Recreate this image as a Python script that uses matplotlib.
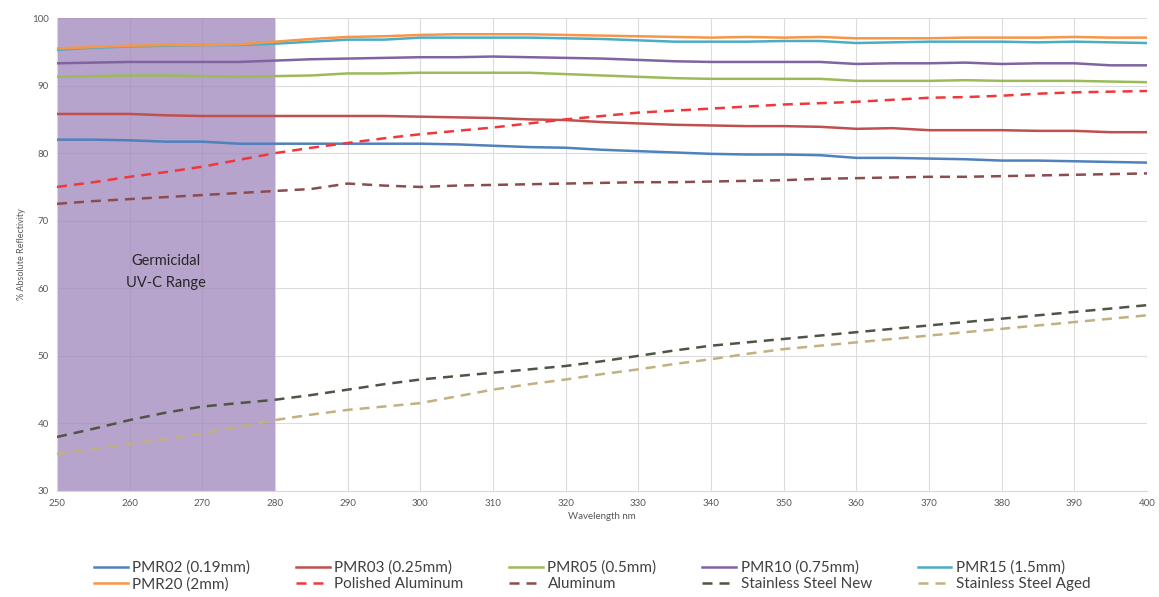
import numpy as np
import matplotlib.pyplot as plt

wavelength = list(range(250, 401, 5))

pmr02 = [82.0, 82.0, 81.9, 81.7, 81.7, 81.4, 81.4, 81.4, 81.4, 81.4, 81.4, 81.3, 81.1, 80.9, 80.8, 80.5,
         80.3, 80.1, 79.9, 79.8, 79.8, 79.7, 79.3, 79.3, 79.2, 79.1, 78.9, 78.9, 78.8, 78.7, 78.6]
pmr03 = [85.8, 85.8, 85.8, 85.6, 85.5, 85.5, 85.5, 85.5, 85.5, 85.5, 85.4, 85.3, 85.2, 85.0, 84.9, 84.6,
         84.4, 84.2, 84.1, 84.0, 84.0, 83.9, 83.6, 83.7, 83.4, 83.4, 83.4, 83.3, 83.3, 83.1, 83.1]
pmr05 = [91.3, 91.4, 91.5, 91.5, 91.4, 91.3, 91.4, 91.5, 91.8, 91.8, 91.9, 91.9, 91.9, 91.9, 91.7, 91.5,
         91.3, 91.1, 91.0, 91.0, 91.0, 91.0, 90.7, 90.7, 90.7, 90.8, 90.7, 90.7, 90.7, 90.6, 90.5]
pmr10 = [93.3, 93.4, 93.5, 93.5, 93.5, 93.5, 93.7, 93.9, 94.0, 94.1, 94.2, 94.2, 94.3, 94.2, 94.1, 94.0,
         93.8, 93.6, 93.5, 93.5, 93.5, 93.5, 93.2, 93.3, 93.3, 93.4, 93.2, 93.3, 93.3, 93.0, 93.0]
pmr15 = [95.3, 95.6, 95.8, 95.9, 96.0, 96.0, 96.2, 96.5, 96.8, 96.8, 97.1, 97.1, 97.1, 97.1, 97.0, 96.9,
         96.7, 96.5, 96.5, 96.5, 96.6, 96.6, 96.3, 96.4, 96.5, 96.5, 96.5, 96.4, 96.5, 96.4, 96.3]
pmr20 = [95.5, 95.7, 95.9, 96.0, 96.0, 96.1, 96.5, 96.9, 97.2, 97.3, 97.5, 97.6, 97.6, 97.6, 97.5, 97.4,
         97.3, 97.2, 97.1, 97.2, 97.1, 97.2, 97.0, 97.0, 97.0, 97.1, 97.1, 97.1, 97.2, 97.1, 97.1]
polished_al = [75.0, 75.7, 76.5, 77.2, 78.0, 79.0, 80.0, 80.8, 81.5, 82.2, 82.8, 83.3, 83.8, 84.4, 85.0, 85.5,
               86.0, 86.3, 86.6, 86.9, 87.2, 87.4, 87.6, 87.9, 88.2, 88.3, 88.5, 88.8, 89.0, 89.1, 89.2]
aluminum = [72.5, 72.9, 73.2, 73.5, 73.8, 74.1, 74.4, 74.7, 75.5, 75.2, 75.0, 75.2, 75.3, 75.4, 75.5, 75.6,
            75.7, 75.7, 75.8, 75.9, 76.0, 76.2, 76.3, 76.4, 76.5, 76.5, 76.6, 76.7, 76.8, 76.9, 77.0]
ss_new = [38.0, 39.2, 40.5, 41.6, 42.5, 43.0, 43.5, 44.2, 45.0, 45.8, 46.5, 47.0, 47.5, 48.0, 48.5, 49.2,
          50.0, 50.8, 51.5, 52.0, 52.5, 53.0, 53.5, 54.0, 54.5, 55.0, 55.5, 56.0, 56.5, 57.0, 57.5]
ss_aged = [35.5, 36.2, 37.0, 37.7, 38.5, 39.5, 40.5, 41.3, 42.0, 42.5, 43.0, 44.0, 45.0, 45.8, 46.5, 47.3,
           48.0, 48.8, 49.5, 50.3, 51.0, 51.5, 52.0, 52.5, 53.0, 53.5, 54.0, 54.5, 55.0, 55.5, 56.0]

series = [
    ("PMR02 (0.19mm)", pmr02, "#4F81BD", "-"),
    ("PMR03 (0.25mm)", pmr03, "#C0504D", "-"),
    ("PMR05 (0.5mm)", pmr05, "#9BBB59", "-"),
    ("PMR10 (0.75mm)", pmr10, "#8064A2", "-"),
    ("PMR15 (1.5mm)", pmr15, "#4BACC6", "-"),
    ("PMR20 (2mm)", pmr20, "#F79646", "-"),
    ("Polished Aluminum", polished_al, "#F0373C", "--"),
    ("Aluminum", aluminum, "#8C4B4F", "--"),
    ("Stainless Steel New", ss_new, "#4F5546", "--"),
    ("Stainless Steel Aged", ss_aged, "#C2B080", "--"),
]

plt.rcParams["font.family"] = ["Lato", "DejaVu Sans"]

fig = plt.figure(figsize=(11.59, 5.97), dpi=100)
ax = fig.add_axes([0.0492, 0.1776, 0.9404, 0.7922])

ax.grid(True, color="#dcdcdc", lw=0.8, zorder=0)
ax.set_axisbelow(True)
ax.axvspan(250, 280, color="#A48DC0", alpha=0.8, lw=0, zorder=1)
ax.text(265, 62.4, "Germicidal\nUV-C Range", ha="center", va="center",
        fontsize=10.5, color="#262626", linespacing=1.7, zorder=3)

handles = []
for label, values, color, style in series:
    if style == "--":
        line, = ax.plot(wavelength, values, style, color=color, lw=1.8, label=label,
                        dashes=(4, 2.8), zorder=4)
    else:
        line, = ax.plot(wavelength, values, style, color=color, lw=1.8, label=label, zorder=4)
    handles.append(line)

ax.set_xlim(250, 400)
ax.set_ylim(30, 100)
ax.set_xticks(np.arange(250, 401, 10))
ax.set_yticks(np.arange(30, 101, 10))
ax.tick_params(length=0, labelsize=7, colors="#595959", pad=6)
for side in ["top", "right"]:
    ax.spines[side].set_visible(False)
for side in ["left", "bottom"]:
    ax.spines[side].set_color("#d9d9d9")

ax.set_xlabel("Wavelength nm", fontsize=7, color="#595959", labelpad=3)
ax.set_ylabel("% Absolute Reflectivity", fontsize=6.5, color="#595959", labelpad=4)

# legend is filled column by column, so interleave to read row by row
order = [0, 5, 1, 6, 2, 7, 3, 8, 4, 9]
fig.legend([handles[i] for i in order], [series[i][0] for i in order],
           loc="lower center", bbox_to_anchor=(0.511, -0.014), ncol=5, frameon=False,
           fontsize=11, handlelength=2.2, columnspacing=3.0, handletextpad=0.3,
           labelspacing=0.15, labelcolor="#404040")

fig.savefig("out.png", dpi=100)
